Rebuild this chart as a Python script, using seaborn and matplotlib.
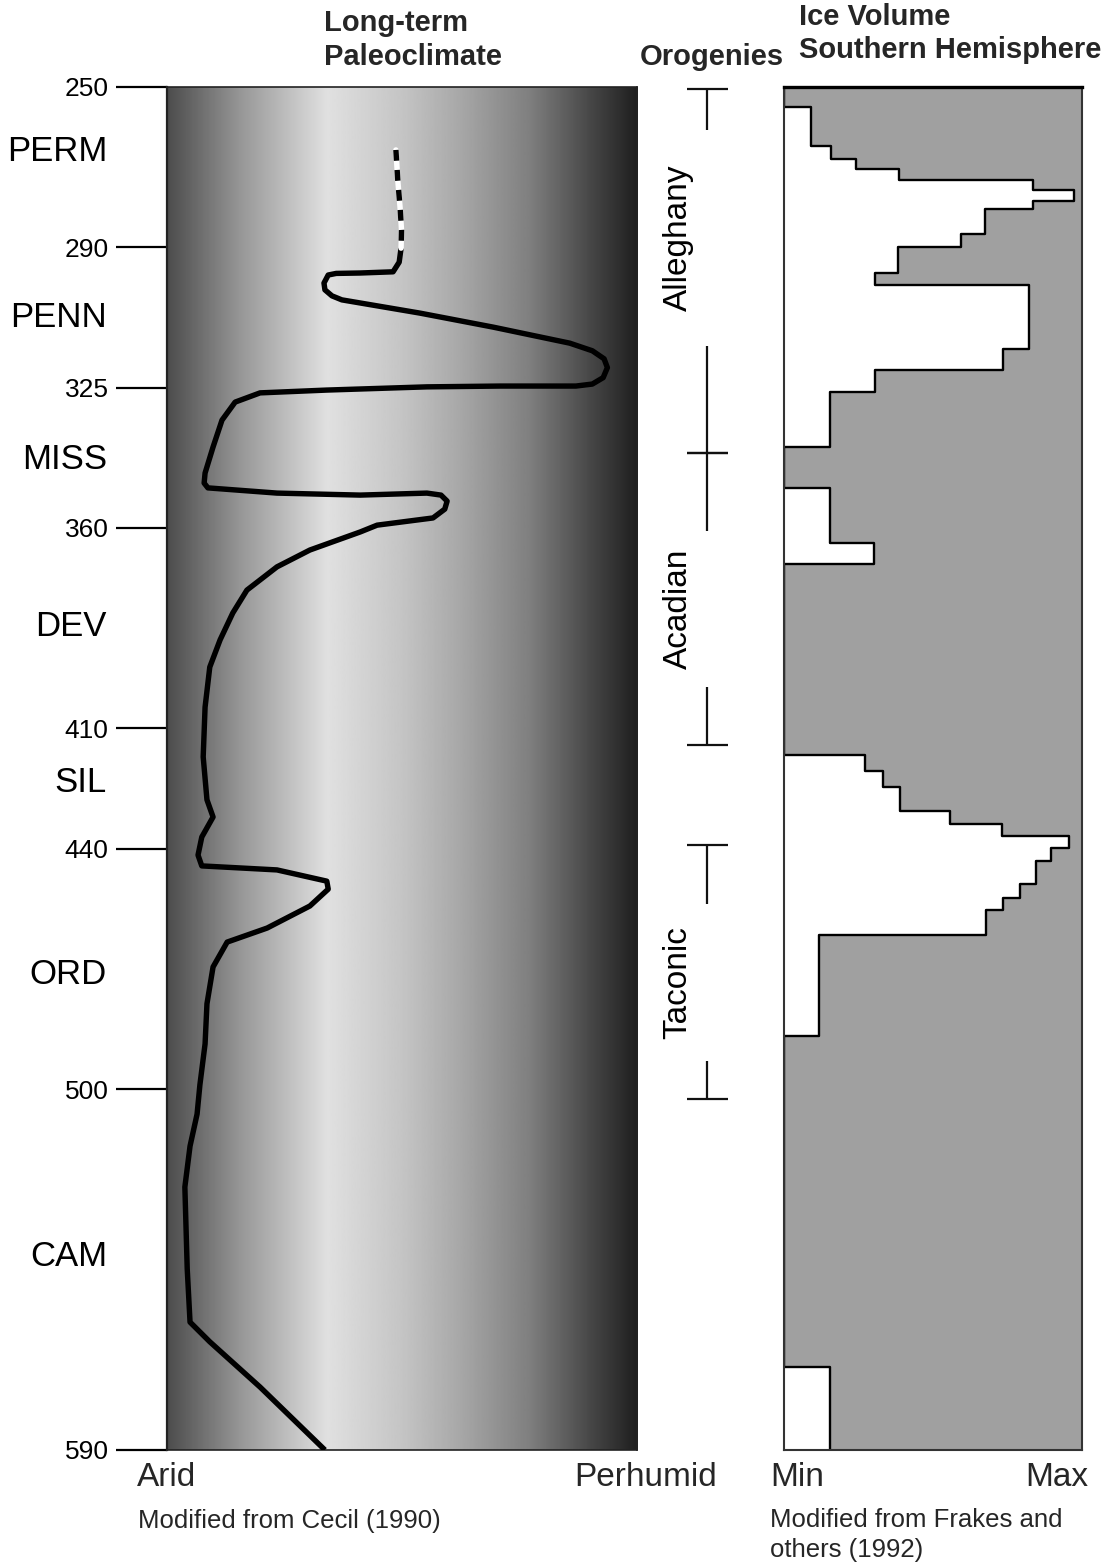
import numpy as np
import matplotlib
matplotlib.use("Agg")
import matplotlib.pyplot as plt
import matplotlib.transforms as mtransforms
import seaborn as sns

# ages (Ma) for the y axis and period names
age_ticks = [250, 290, 325, 360, 410, 440, 500, 590]
period_names = ["PERM", "PENN", "MISS", "DEV", "SIL", "ORD", "CAM"]
period_label_ma = [266.2, 307.4, 342.8, 384.7, 423.4, 471.3, 541.8]

# long-term paleoclimate curve (0 = arid, 1 = perhumid)
climate_dashed_x = [0.487, 0.491, 0.496, 0.499, 0.498]
climate_dashed_ma = [265.7, 273.2, 280.2, 285.7, 290.2]
climate_x = [0.498, 0.494, 0.481, 0.411, 0.360, 0.343, 0.334, 0.336, 0.351, 0.372,
             0.538, 0.694, 0.857, 0.905, 0.930, 0.937, 0.928, 0.905, 0.870, 0.709,
             0.553, 0.340, 0.198, 0.145, 0.117, 0.098, 0.081, 0.079, 0.087, 0.234,
             0.411, 0.553, 0.583, 0.596, 0.591, 0.566, 0.447, 0.411, 0.304, 0.234,
             0.170, 0.140, 0.113, 0.091, 0.081, 0.077, 0.085, 0.098, 0.074, 0.066,
             0.074, 0.234, 0.340, 0.343, 0.304, 0.213, 0.128, 0.098, 0.085, 0.081,
             0.070, 0.064, 0.049, 0.038, 0.043, 0.049, 0.091, 0.198, 0.336]
climate_ma = [290.2, 293.7, 296.1, 296.4, 296.5, 296.9, 298.9, 300.6, 302.1, 303.1,
              306.4, 309.9, 313.9, 315.8, 317.8, 320.0, 322.5, 324.1, 324.6, 324.6,
              324.8, 325.6, 326.3, 328.6, 333.1, 339.8, 346.3, 348.8, 350.0, 351.3,
              351.8, 351.3, 351.8, 353.3, 355.3, 357.5, 359.3, 361.0, 365.5, 369.7,
              375.5, 381.2, 387.9, 394.7, 404.7, 417.1, 427.8, 432.1, 437.1, 441.6,
              444.3, 445.3, 448.1, 450.1, 454.3, 459.8, 463.3, 469.5, 478.7, 488.7,
              498.9, 506.2, 514.2, 524.4, 544.8, 558.1, 563.0, 574.3, 590.0]

# orogenies
orogeny_names = ["Alleghany", "Acadian", "Taconic"]
orogeny_start = [250.5, 341.3, 439.1]
orogeny_end = [341.3, 414.1, 502.4]
orogeny_gap_top = [260.7, 360.8, 453.8]
orogeny_gap_bottom = [314.6, 399.7, 493.0]

# southern hemisphere ice volume (0 = min, 1 = max), one value per interval
ice_breaks = [250, 254.9, 264.7, 268.0, 270.5, 273.2, 275.7, 278.4, 280.5, 286.7,
              289.8, 296.5, 299.4, 315.4, 320.6, 326.2, 339.7, 350.0, 363.7, 368.9,
              416.7, 420.6, 424.6, 430.5, 433.9, 436.8, 439.9, 443.0, 448.9, 452.2,
              455.4, 461.6, 486.8, 569.3, 590]
ice_values = [0, 0.092, 0.159, 0.241, 0.385, 0.834, 0.974, 0.834, 0.675, 0.593,
              0.381, 0.305, 0.821, 0.734, 0.305, 0.156, 0, 0.154, 0.303, 0,
              0.272, 0.331, 0.389, 0.557, 0.731, 0.958, 0.897, 0.847, 0.791, 0.734,
              0.678, 0.117, 0, 0.154]

sns.set_theme(style="white")
plt.rcParams["font.family"] = ["Liberation Sans", "DejaVu Sans"]

W, H = 1107, 1565
fig = plt.figure(figsize=(W / 100, H / 100), dpi=100)


def px_axes(x0, x1, y0, y1):
    return fig.add_axes([x0 / W, 1 - y1 / H, (x1 - x0) / W, (y1 - y0) / H])


ax = px_axes(167, 637, 87, 1450)
ax_oro = px_axes(656, 756, 87, 1450)
ax_ice = px_axes(784, 1082, 87, 1450)

# --- paleoclimate panel ---
stops = [0.0, 0.16, 0.34, 0.5, 0.62, 0.77, 0.9, 1.0]
levels = [0.30, 0.60, 0.88, 0.77, 0.66, 0.50, 0.28, 0.12]
grad = np.interp(np.linspace(0, 1, 400), stops, levels)
ax.imshow(np.tile(grad, (2, 1)), cmap="gray", vmin=0, vmax=1, aspect="auto",
          extent=[0, 1, 590, 250], interpolation="bilinear", zorder=0)

sns.lineplot(x=climate_x, y=climate_ma, sort=False, estimator=None, ax=ax,
             color="black", lw=3.9, legend=False, solid_joinstyle="round",
             solid_capstyle="butt", zorder=3)
sns.lineplot(x=climate_dashed_x, y=climate_dashed_ma, sort=False, estimator=None,
             ax=ax, color="white", lw=3.9, legend=False, zorder=3)
sns.lineplot(x=climate_dashed_x, y=climate_dashed_ma, sort=False, estimator=None,
             ax=ax, color="black", lw=3.9, legend=False, zorder=4,
             dashes=False, linestyle=(0, (2.0, 1.7)))

ax.set_xlim(0, 1)
ax.set_ylim(590, 250)
ax.set_yticks(age_ticks)
ax.set_yticklabels([str(t) for t in age_ticks])
ax.set_xticks([])
ax.tick_params(axis="y", left=True, length=37, width=1.6, pad=5, labelsize=19,
               color="black", labelcolor="black")
for s in ax.spines.values():
    s.set_color("#222222")
    s.set_linewidth(1.2)
ax.spines["left"].set_linewidth(1.6)
ax.set_xlabel("")
ax.set_ylabel("")

trans = mtransforms.blended_transform_factory(fig.transFigure, ax.transData)
for name, ma in zip(period_names, period_label_ma):
    ax.text(107 / W, ma, name, transform=trans, ha="right", va="center",
            fontsize=25, color="black")

# --- orogenies ---
ax_oro.set_xlim(0, 1)
ax_oro.set_ylim(590, 250)
ax_oro.axis("off")
xc = 0.505
for name, s, e, gt, gb in zip(orogeny_names, orogeny_start, orogeny_end,
                              orogeny_gap_top, orogeny_gap_bottom):
    ax_oro.vlines(xc, s, gt, color="#111111", lw=1.6)
    ax_oro.vlines(xc, gb, e, color="#111111", lw=1.6)
    ax_oro.hlines([s, e], 0.305, 0.72, color="#111111", lw=1.6)
    ax_oro.text(0.22, (gt + gb) / 2, name, rotation=90, ha="center", va="center",
                fontsize=24, color="black")

# --- ice volume panel ---
step_x, step_y = [], []
for i, v in enumerate(ice_values):
    step_x += [v, v]
    step_y += [ice_breaks[i], ice_breaks[i + 1]]
ax_ice.set_facecolor("#a0a0a0")
ax_ice.fill_betweenx(step_y, 0, step_x, color="white", lw=0, zorder=1)
sns.lineplot(x=step_x, y=step_y, sort=False, estimator=None, ax=ax_ice,
             color="black", lw=1.7, legend=False, zorder=2)
ax_ice.set_xlim(0, 1)
ax_ice.set_ylim(590, 250)
ax_ice.set_xticks([])
ax_ice.set_yticks([])
ax_ice.set_xlabel("")
ax_ice.set_ylabel("")
for s in ax_ice.spines.values():
    s.set_color("#333333")
    s.set_linewidth(1.5)
ax_ice.spines["top"].set_color("black")
ax_ice.spines["top"].set_linewidth(2.4)

# --- titles and annotations ---
def ftext(x, y, s, **kw):
    fig.text(x / W, 1 - y / H, s, **kw)


ftext(324, 23, "Long-term", ha="left", va="center", fontsize=21, fontweight="bold")
ftext(324, 57, "Paleoclimate", ha="left", va="center", fontsize=21, fontweight="bold")
ftext(640, 57, "Orogenies", ha="left", va="center", fontsize=21, fontweight="bold")
ftext(799, 17, "Ice Volume", ha="left", va="center", fontsize=21, fontweight="bold")
ftext(799, 50, "Southern Hemisphere", ha="left", va="center", fontsize=21,
      fontweight="bold")

ftext(137, 1478, "Arid", ha="left", va="center", fontsize=24)
ftext(717, 1478, "Perhumid", ha="right", va="center", fontsize=24)
ftext(770, 1478, "Min", ha="left", va="center", fontsize=24)
ftext(1088, 1478, "Max", ha="right", va="center", fontsize=24)
ftext(138, 1521, "Modified from Cecil (1990)", ha="left", va="center", fontsize=18.5)
ftext(770, 1520, "Modified from Frakes and", ha="left", va="center", fontsize=18.5)
ftext(770, 1550, "others (1992)", ha="left", va="center", fontsize=18.5)

fig.savefig("out.png", dpi=100)
